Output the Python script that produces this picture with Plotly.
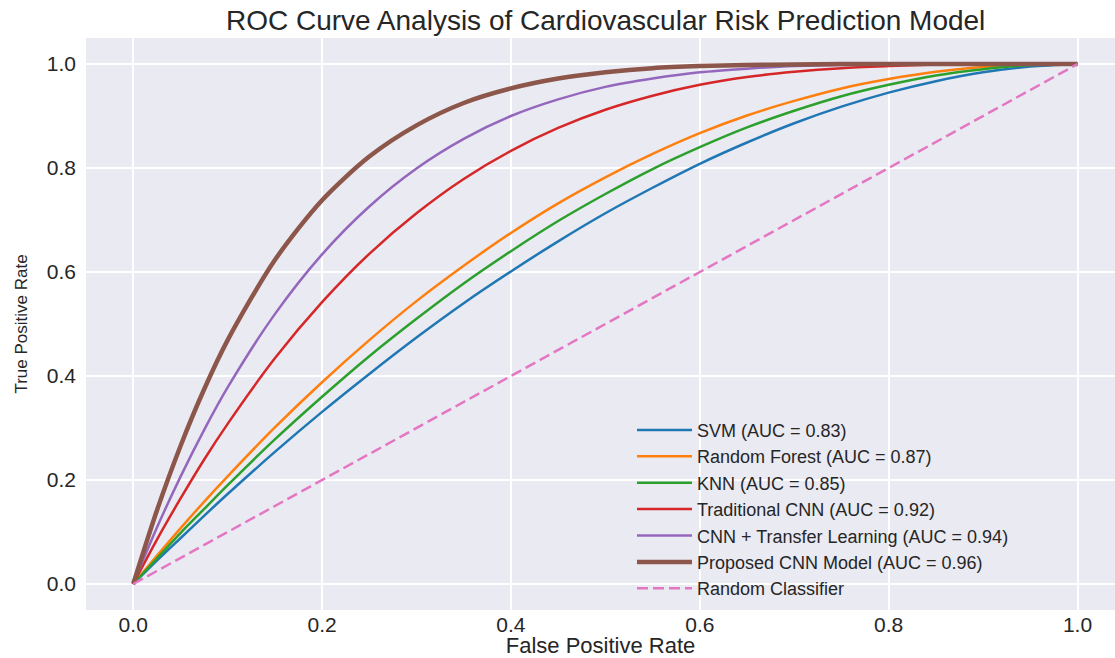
import plotly.graph_objects as go

# False positive rate sample points
fpr = [0.0, 0.025, 0.05, 0.075, 0.1, 0.15, 0.2, 0.25, 0.3, 0.35, 0.4, 0.45,
       0.5, 0.55, 0.6, 0.65, 0.7, 0.75, 0.8, 0.85, 0.9, 0.95, 1.0]

# True positive rates per model
tpr_svm = [0.0, 0.045, 0.088, 0.131, 0.173, 0.254, 0.331, 0.404, 0.474, 0.540, 0.601, 0.659,
           0.713, 0.762, 0.808, 0.849, 0.886, 0.918, 0.945, 0.967, 0.984, 0.995, 1.0]
tpr_rf = [0.0, 0.054, 0.107, 0.158, 0.207, 0.301, 0.388, 0.469, 0.544, 0.612, 0.675, 0.732,
          0.782, 0.827, 0.867, 0.901, 0.929, 0.953, 0.971, 0.985, 0.994, 0.999, 1.0]
tpr_knn = [0.0, 0.049, 0.098, 0.144, 0.190, 0.278, 0.360, 0.438, 0.510, 0.578, 0.640, 0.698,
           0.750, 0.798, 0.840, 0.878, 0.910, 0.938, 0.960, 0.978, 0.990, 0.998, 1.0]
tpr_tcnn = [0.0, 0.085, 0.164, 0.239, 0.308, 0.434, 0.542, 0.635, 0.713, 0.779, 0.833, 0.877,
            0.912, 0.939, 0.960, 0.975, 0.985, 0.992, 0.996, 0.999, 1.0, 1.0, 1.0]
tpr_tl = [0.0, 0.108, 0.206, 0.296, 0.378, 0.519, 0.634, 0.726, 0.799, 0.856, 0.900, 0.932,
          0.956, 0.972, 0.984, 0.991, 0.996, 0.998, 0.999, 1.0, 1.0, 1.0, 1.0]
tpr_prop = [0.0, 0.141, 0.265, 0.374, 0.469, 0.623, 0.738, 0.822, 0.882, 0.925, 0.953, 0.972,
            0.984, 0.992, 0.996, 0.998, 0.999, 1.0, 1.0, 1.0, 1.0, 1.0, 1.0]

rand_x = [0.0, 1.0]
rand_y = [0.0, 1.0]

series_names = ["SVM (AUC = 0.83)", "Random Forest (AUC = 0.87)", "KNN (AUC = 0.85)",
                "Traditional CNN (AUC = 0.92)", "CNN + Transfer Learning (AUC = 0.94)",
                "Proposed CNN Model (AUC = 0.96)"]
series_values = [tpr_svm, tpr_rf, tpr_knn, tpr_tcnn, tpr_tl, tpr_prop]
colors = ["#1f77b4", "#ff7f0e", "#2ca02c", "#d62728", "#9467bd", "#8c564b"]
widths = [2.5, 2.5, 2.5, 2.5, 2.5, 4.5]

tick_vals = [0.0, 0.2, 0.4, 0.6, 0.8, 1.0]
tick_text = ["0.0", "0.2", "0.4", "0.6", "0.8", "1.0"]

FONT = "Liberation Sans, Arial, sans-serif"
TXT = "#262626"

fig = go.Figure()
for name, vals, col, w in zip(series_names, series_values, colors, widths):
    fig.add_trace(go.Scatter(x=fpr, y=vals, mode="lines", name=name,
                             line=dict(color=col, width=w, shape="spline", smoothing=0.8)))
fig.add_trace(go.Scatter(x=rand_x, y=rand_y, mode="lines", name="Random Classifier",
                         line=dict(color="#e377c2", width=2.5, dash="11px,5px")))

fig.update_layout(
    width=1115, height=658,
    margin=dict(l=86, r=0, t=38, b=48, autoexpand=False),
    paper_bgcolor="white",
    plot_bgcolor="#EAEAF2",
    font=dict(family=FONT, color=TXT, size=20),
    title=dict(text="ROC Curve Analysis of Cardiovascular Risk Prediction Model",
               x=0.505, xref="paper", xanchor="center",
               y=1 - 20 / 658, yref="container", yanchor="middle",
               font=dict(size=28, color=TXT, family=FONT)),
    showlegend=True,
    legend=dict(x=0.5306, y=0.3467, xanchor="left", yanchor="top",
                bgcolor="rgba(0,0,0,0)", borderwidth=0,
                font=dict(size=18, color=TXT, family=FONT),
                tracegroupgap=0, itemwidth=55),
    xaxis=dict(range=[-0.05, 1.0397], tickvals=tick_vals, ticktext=tick_text,
               showgrid=True, gridcolor="white", gridwidth=1.5,
               zeroline=False, showline=False, ticks="",
               tickfont=dict(size=21, color=TXT, family=FONT),
               title=dict(text="False Positive Rate", standoff=12,
                          font=dict(size=22, color=TXT, family=FONT)),
               automargin=False),
    yaxis=dict(range=[-0.05, 1.05], tickvals=tick_vals, ticktext=tick_text,
               showgrid=True, gridcolor="white", gridwidth=1.5,
               zeroline=False, showline=False, ticks="",
               ticklabelstandoff=9,
               tickfont=dict(size=21, color=TXT, family=FONT),
               title=dict(text="True Positive Rate", standoff=14,
                          font=dict(size=17, color=TXT, family=FONT)),
               automargin=False),
)

fig.write_html("out.html", config={"displayModeBar": False},
               post_script="document.body.style.margin='0';document.body.style.overflow='hidden';")
